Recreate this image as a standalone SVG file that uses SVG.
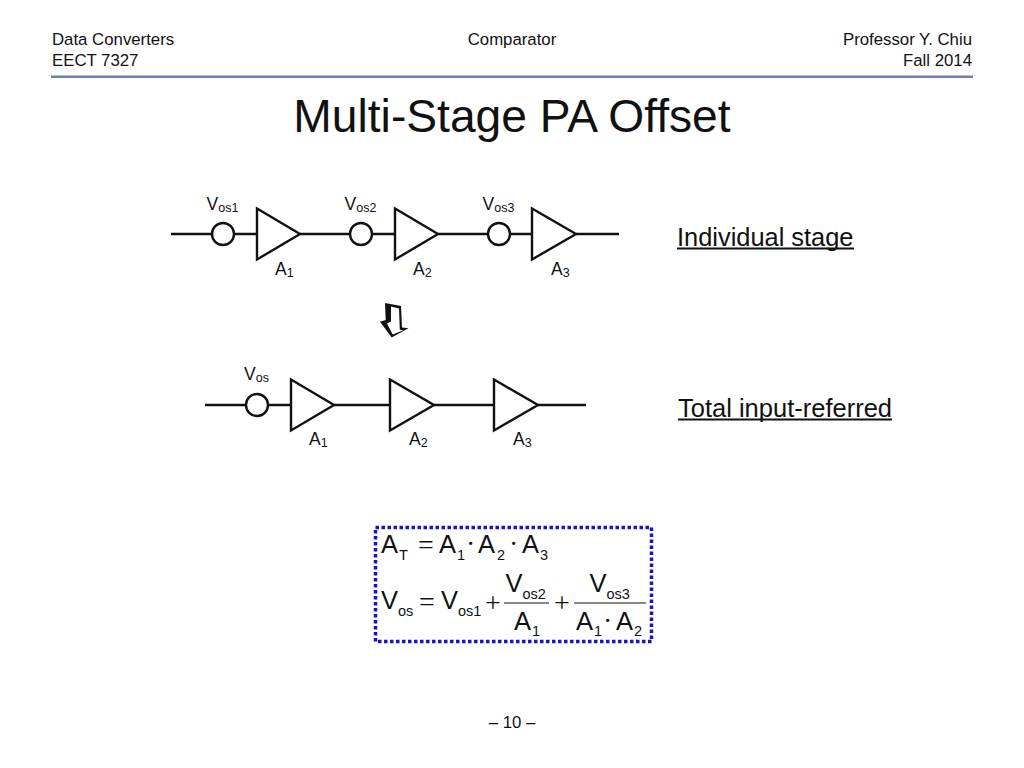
<svg xmlns="http://www.w3.org/2000/svg" width="1024" height="768" viewBox="0 0 1024 768">
<style>
text{font-family:"Liberation Sans",Arial,sans-serif;fill:#111}
.h{font-size:16.800px}
.l{font-size:17.500px}
.s{font-size:12.500px}
.e{font-size:25.500px}
.es{font-size:14.500px}
.sym{font-family:"Liberation Serif",serif;font-size:28px}
.w{fill:none;stroke:#111;stroke-width:2.400}
.c{fill:#fff;stroke:#111;stroke-width:2.400}
.u{stroke:#111;stroke-width:2}
</style>
<rect width="1024" height="768" fill="#fff"/>
<g id="header">
<text class="h" x="52" y="45">Data Converters</text>
<text class="h" x="52" y="66">EECT 7327</text>
<text class="h" x="512" y="45" text-anchor="middle">Comparator</text>
<text class="h" x="972" y="45" text-anchor="end">Professor Y. Chiu</text>
<text class="h" x="972" y="66" text-anchor="end">Fall 2014</text>
<rect x="51" y="75.500" width="922" height="2.500" fill="#6f7fb0"/>
<text x="512" y="132" text-anchor="middle" font-size="46.200">Multi-Stage PA Offset</text>
</g>
<g id="connectors">
<path class="w" d="M171 234H212M234 234H257M300 234H350M372 234H395M438 234H488M510 234H532M576 234H619"/>
<path class="w" d="M205 405H246M268 405H291M334 405H390M434 405H494M538 405H586"/>
</g>
<g id="row1">
<g id="vos1"><circle class="c" cx="223" cy="234" r="11"/><text class="l" x="206.500" y="210">V<tspan class="s" dy="2">os1</tspan></text></g>
<g id="a1"><path class="c" d="M257 208.500L300 234L257 259.500Z"/><text class="l" x="275" y="274.500">A<tspan class="s" dy="2">1</tspan></text></g>
<g id="vos2"><circle class="c" cx="361" cy="234" r="11"/><text class="l" x="344.500" y="210">V<tspan class="s" dy="2">os2</tspan></text></g>
<g id="a2"><path class="c" d="M395 208.500L438 234L395 259.500Z"/><text class="l" x="413" y="274.500">A<tspan class="s" dy="2">2</tspan></text></g>
<g id="vos3"><circle class="c" cx="499" cy="234" r="11"/><text class="l" x="482.500" y="210">V<tspan class="s" dy="2">os3</tspan></text></g>
<g id="a3"><path class="c" d="M532 208.500L576 234L532 259.500Z"/><text class="l" x="551" y="274.500">A<tspan class="s" dy="2">3</tspan></text></g>
</g>
<g id="label1"><text x="677" y="245.500" font-size="25.400">Individual stage</text><line class="u" x1="677" y1="248.500" x2="854" y2="248.500"/></g>
<g id="arrow"><path d="M385 303L401 306L402 327.500L408.500 328.300L391.700 337.500L380 321.700L385.700 320Z" fill="#111"/><path d="M391 306.500L399 308.500L399.800 329.800L403.500 330.300L392.700 334.500L387 323.500L391 321.500Z" fill="#fff"/></g>
<g id="row2">
<g id="vos"><circle class="c" cx="257" cy="405" r="11"/><text class="l" x="244" y="380">V<tspan class="s" dy="2">os</tspan></text></g>
<g id="b1"><path class="c" d="M291 379.500L334 405L291 430.500Z"/><text class="l" x="309" y="444.500">A<tspan class="s" dy="2">1</tspan></text></g>
<g id="b2"><path class="c" d="M390 379.500L434 405L390 430.500Z"/><text class="l" x="409" y="444.500">A<tspan class="s" dy="2">2</tspan></text></g>
<g id="b3"><path class="c" d="M494 379.500L538 405L494 430.500Z"/><text class="l" x="513" y="444.500">A<tspan class="s" dy="2">3</tspan></text></g>
</g>
<g id="label2"><text x="678" y="416.500" font-size="25.500">Total input-referred</text><line class="u" x1="678" y1="419.500" x2="892" y2="419.500"/></g>
<g id="formula">
<rect x="375.500" y="527.500" width="276" height="114" fill="none" stroke="#1414c8" stroke-width="3.500" stroke-dasharray="3.500 2.500"/>
<text class="e" x="381" y="553">A</text><text class="es" x="399" y="560">T</text>
<text class="sym" x="418" y="554">=</text>
<text class="e" x="439" y="553">A</text><text class="es" x="457" y="560">1</text>
<text class="sym" x="466" y="553">·</text>
<text class="e" x="478" y="553">A</text><text class="es" x="497" y="560">2</text>
<text class="sym" x="509" y="553">·</text>
<text class="e" x="522" y="553">A</text><text class="es" x="540" y="560">3</text>
<text class="e" x="381" y="609">V</text><text class="es" x="398" y="616">os</text>
<text class="sym" x="419" y="611">=</text>
<text class="e" x="441" y="609">V</text><text class="es" x="458" y="616">os1</text>
<text class="sym" x="485" y="612">+</text>
<text class="e" x="505.500" y="592">V</text><text class="es" x="522.500" y="599">os2</text>
<line x1="504" y1="603" x2="549" y2="603" stroke="#111" stroke-width="1.200"/>
<text class="e" x="514" y="630">A</text><text class="es" x="532" y="636">1</text>
<text class="sym" x="554" y="612">+</text>
<text class="e" x="589.500" y="592">V</text><text class="es" x="606.500" y="599">os3</text>
<line x1="574" y1="603" x2="646" y2="603" stroke="#111" stroke-width="1.200"/>
<text class="e" x="576" y="630">A</text><text class="es" x="594" y="636">1</text>
<text class="sym" x="603" y="630">·</text>
<text class="e" x="616" y="630">A</text><text class="es" x="634" y="636">2</text>
</g>
<text class="h" x="512" y="728" text-anchor="middle">– 10 –</text>
</svg>
